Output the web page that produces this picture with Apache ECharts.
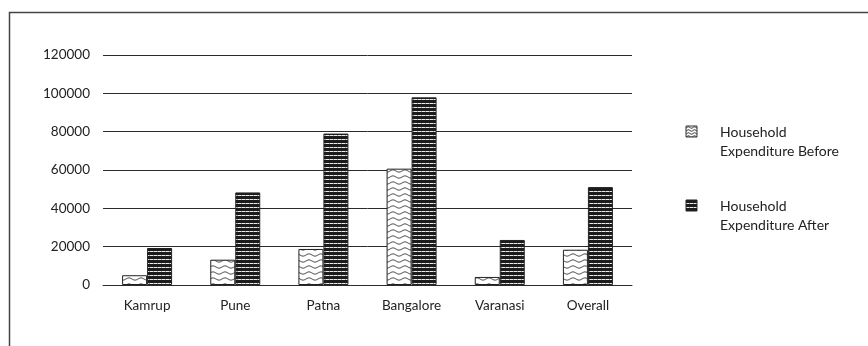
<!DOCTYPE html>
<html>
<head>
<meta charset="utf-8">
<script src="https://cdn.jsdelivr.net/npm/echarts@6/dist/echarts.min.js"></script>
<style>
  html, body { margin: 0; padding: 0; background: #fff; }
  #chart { width: 868px; height: 346px; }
</style>
</head>
<body>
<div id="chart"></div>
<script>
// Household expenditure by site, before and after
const categories = ['Kamrup', 'Pune', 'Patna', 'Bangalore', 'Varanasi', 'Overall'];
const expenditureBefore = [5100, 13200, 18800, 60700, 4200, 18400];
const expenditureAfter = [19300, 48300, 79000, 97900, 23500, 51100];
const seriesNames = ['Household\nExpenditure Before', 'Household\nExpenditure After'];
const yTicks = [0, 20000, 40000, 60000, 80000, 100000, 120000];

const FONT = 'Lato, "Open Sans", sans-serif';
const INK = '#2b2b2b';

// wavy-line fill for the "before" bars
function wavePattern(w, h, amp, lw) {
  const c = document.createElement('canvas');
  c.width = w; c.height = h;
  const g = c.getContext('2d');
  g.fillStyle = '#fff';
  g.fillRect(0, 0, w, h);
  g.strokeStyle = '#222';
  g.lineWidth = lw;
  g.beginPath();
  for (let x = 0; x <= w; x += 0.5) {
    const y = h / 2 + amp * Math.sin((x / w) * Math.PI * 2);
    if (x === 0) g.moveTo(x, y); else g.lineTo(x, y);
  }
  g.stroke();
  return c;
}

// dense horizontal stripes for the "after" bars
function stripePattern() {
  const c = document.createElement('canvas');
  c.width = 4; c.height = 4;
  const g = c.getContext('2d');
  g.fillStyle = '#1c1c1c';
  g.fillRect(0, 0, 4, 4);
  g.fillStyle = '#ececec';
  g.fillRect(0, 3, 4, 1);
  g.fillStyle = '#9a9a9a';
  g.fillRect(1, 3, 1, 1);
  return c;
}

const beforeFill = { image: wavePattern(12, 6, 1.1, 0.9), repeat: 'repeat' };
const beforeKeyFill = { image: wavePattern(6, 3, 0.7, 1), repeat: 'repeat' };
const afterFill = { image: stripePattern(), repeat: 'repeat' };

const chart = echarts.init(document.getElementById('chart'), null, { renderer: 'canvas' });

chart.setOption({
  animation: false,
  backgroundColor: '#fff',
  textStyle: { fontFamily: FONT },
  grid: { left: 103, right: 236, top: 55, bottom: 61, containLabel: false },
  xAxis: {
    type: 'category',
    data: categories,
    axisLine: { show: true, lineStyle: { color: INK, width: 1 } },
    axisTick: { show: false },
    axisLabel: { color: '#222', fontSize: 13.5, fontFamily: FONT, margin: 14 }
  },
  yAxis: {
    type: 'value',
    min: yTicks[0],
    max: yTicks[yTicks.length - 1],
    interval: yTicks[1] - yTicks[0],
    axisLine: { show: false },
    axisTick: { show: false },
    axisLabel: {
      color: '#222', fontSize: 13.5, fontFamily: FONT, margin: 13,
      formatter: (v) => String(v)
    },
    splitLine: { show: true, lineStyle: { color: INK, width: 1 } }
  },
  series: [
    {
      name: seriesNames[0],
      type: 'bar',
      data: expenditureBefore,
      barWidth: 25,
      barGap: '0%',
      itemStyle: { color: beforeFill, borderColor: '#222', borderWidth: 1 }
    },
    {
      name: seriesNames[1],
      type: 'bar',
      data: expenditureAfter,
      barWidth: 25,
      barGap: '0%',
      itemStyle: { color: afterFill, borderColor: '#222', borderWidth: 1 }
    }
  ],
  graphic: [
    // figure heading running off the top edge
    {
      type: 'text', left: 9, top: -15,
      style: { text: 'Figure 4: Household Expenditure', font: 'bold 15px ' + FONT, fill: '#222' }
    },
    // outer frame
    {
      type: 'rect', silent: true,
      shape: { x: 9.5, y: 12.5, width: 900, height: 400 },
      style: { fill: 'none', stroke: '#444', lineWidth: 1.5 }
    },
    // legend
    {
      type: 'rect', shape: { x: 686, y: 126, width: 11, height: 11 },
      style: { fill: beforeKeyFill, stroke: '#333', lineWidth: 1 }
    },
    {
      type: 'text', left: 720, top: 123,
      style: { text: seriesNames[0], font: '14px ' + FONT, fill: '#222', lineHeight: 19 }
    },
    {
      type: 'rect', shape: { x: 686, y: 200, width: 11, height: 11 },
      style: { fill: afterFill, stroke: '#222', lineWidth: 1 }
    },
    {
      type: 'text', left: 720, top: 197,
      style: { text: seriesNames[1], font: '14px ' + FONT, fill: '#222', lineHeight: 19 }
    }
  ]
});
</script>
</body>
</html>
